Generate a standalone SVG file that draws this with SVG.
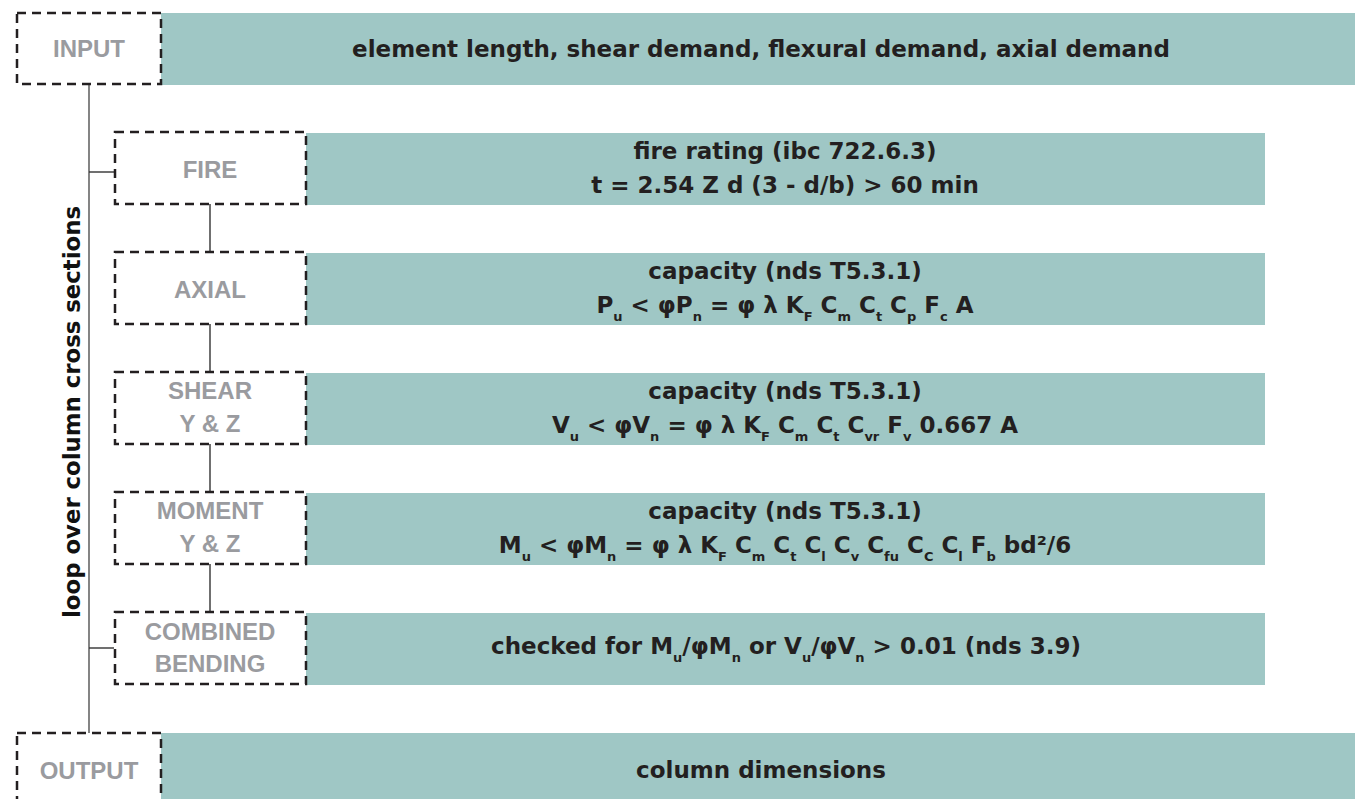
<svg xmlns="http://www.w3.org/2000/svg" width="1355" height="799" viewBox="0 0 1355 799">
  <style>
    .bar { fill: #9fc7c5; }
    .frame { fill: #ffffff; stroke: #231f20; stroke-width: 2.5; stroke-dasharray: 9 6; }
    .tag { font-family: "Liberation Sans", Arial, sans-serif; font-weight: bold; font-size: 24px; fill: #9a9b9f; text-anchor: middle; }
    .body { font-family: "DejaVu Sans", "Liberation Sans", sans-serif; font-weight: bold; font-size: 23px; fill: #231f20; text-anchor: middle; }
    .sub { font-size: 13px; }
    .side { font-family: "DejaVu Sans", "Liberation Sans", sans-serif; font-weight: bold; font-size: 22.8px; fill: #111111; text-anchor: middle; }
    .trunk { stroke: #666666; stroke-width: 1.6; fill: none; }
    .link { stroke: #333333; stroke-width: 1.4; fill: none; }
  </style>
  <rect width="1355" height="799" fill="#ffffff"/>

  <!-- connectors -->
  <g id="connectors">
    <line class="trunk" x1="89" y1="85" x2="89" y2="733"/>
    <line class="link" x1="89" y1="172" x2="114" y2="172"/>
    <line class="link" x1="89" y1="648" x2="114" y2="648"/>
    <line class="link" x1="210" y1="204" x2="210" y2="252"/>
    <line class="link" x1="210" y1="324" x2="210" y2="372"/>
    <line class="link" x1="210" y1="444" x2="210" y2="492"/>
    <line class="link" x1="210" y1="564" x2="210" y2="612"/>
  </g>

  <text class="side" transform="translate(80 412) rotate(-90)">loop over column cross sections</text>

  <!-- input -->
  <g id="input">
    <rect class="bar" x="161" y="13" width="1194" height="72"/>
    <rect class="frame" x="17" y="13" width="144" height="71"/>
    <text class="tag" x="89" y="57">INPUT</text>
    <text class="body" x="761" y="57">element length, shear demand, flexural demand, axial demand</text>
  </g>

  <!-- fire -->
  <g id="fire">
    <rect class="bar" x="306" y="133" width="959" height="72"/>
    <rect class="frame" x="115" y="132" width="191" height="72"/>
    <text class="tag" x="210" y="178">FIRE</text>
    <text class="body" x="785" y="159">fire rating (ibc 722.6.3)</text>
    <text class="body" x="785" y="193">t = 2.54 Z d (3 - d/b) &gt; 60 min</text>
  </g>

  <!-- axial -->
  <g id="axial">
    <rect class="bar" x="306" y="253" width="959" height="72"/>
    <rect class="frame" x="115" y="252" width="191" height="72"/>
    <text class="tag" x="210" y="298">AXIAL</text>
    <text class="body" x="785" y="279">capacity (nds T5.3.1)</text>
    <text class="body" x="785" y="313">P<tspan class="sub" dy="8">u</tspan><tspan dy="-8"> &lt; φP</tspan><tspan class="sub" dy="8">n</tspan><tspan dy="-8"> = φ λ K</tspan><tspan class="sub" dy="8">F</tspan><tspan dy="-8"> C</tspan><tspan class="sub" dy="8">m</tspan><tspan dy="-8"> C</tspan><tspan class="sub" dy="8">t</tspan><tspan dy="-8"> C</tspan><tspan class="sub" dy="8">p</tspan><tspan dy="-8"> F</tspan><tspan class="sub" dy="8">c</tspan><tspan dy="-8"> A</tspan></text>
  </g>

  <!-- shear -->
  <g id="shear">
    <rect class="bar" x="306" y="373" width="959" height="72"/>
    <rect class="frame" x="115" y="372" width="191" height="72"/>
    <text class="tag" x="210" y="399">SHEAR</text>
    <text class="tag" x="210" y="432">Y &amp; Z</text>
    <text class="body" x="785" y="399">capacity (nds T5.3.1)</text>
    <text class="body" x="785" y="433">V<tspan class="sub" dy="8">u</tspan><tspan dy="-8"> &lt; φV</tspan><tspan class="sub" dy="8">n</tspan><tspan dy="-8"> = φ λ K</tspan><tspan class="sub" dy="8">F</tspan><tspan dy="-8"> C</tspan><tspan class="sub" dy="8">m</tspan><tspan dy="-8"> C</tspan><tspan class="sub" dy="8">t</tspan><tspan dy="-8"> C</tspan><tspan class="sub" dy="8">vr</tspan><tspan dy="-8"> F</tspan><tspan class="sub" dy="8">v</tspan><tspan dy="-8"> 0.667 A</tspan></text>
  </g>

  <!-- moment -->
  <g id="moment">
    <rect class="bar" x="306" y="493" width="959" height="72"/>
    <rect class="frame" x="115" y="492" width="191" height="72"/>
    <text class="tag" x="210" y="519">MOMENT</text>
    <text class="tag" x="210" y="552">Y &amp; Z</text>
    <text class="body" x="785" y="519">capacity (nds T5.3.1)</text>
    <text class="body" x="785" y="553">M<tspan class="sub" dy="8">u</tspan><tspan dy="-8"> &lt; φM</tspan><tspan class="sub" dy="8">n</tspan><tspan dy="-8"> = φ λ K</tspan><tspan class="sub" dy="8">F</tspan><tspan dy="-8"> C</tspan><tspan class="sub" dy="8">m</tspan><tspan dy="-8"> C</tspan><tspan class="sub" dy="8">t</tspan><tspan dy="-8"> C</tspan><tspan class="sub" dy="8">l</tspan><tspan dy="-8"> C</tspan><tspan class="sub" dy="8">v</tspan><tspan dy="-8"> C</tspan><tspan class="sub" dy="8">fu</tspan><tspan dy="-8"> C</tspan><tspan class="sub" dy="8">C</tspan><tspan dy="-8"> C</tspan><tspan class="sub" dy="8">l</tspan><tspan dy="-8"> F</tspan><tspan class="sub" dy="8">b</tspan><tspan dy="-8"> bd²/6</tspan></text>
  </g>

  <!-- combined bending -->
  <g id="combined">
    <rect class="bar" x="306" y="613" width="959" height="72"/>
    <rect class="frame" x="115" y="612" width="191" height="72"/>
    <text class="tag" x="210" y="640">COMBINED</text>
    <text class="tag" x="210" y="672">BENDING</text>
    <text class="body" x="786" y="654">checked for M<tspan class="sub" dy="8">u</tspan><tspan dy="-8">/φM</tspan><tspan class="sub" dy="8">n</tspan><tspan dy="-8"> or V</tspan><tspan class="sub" dy="8">u</tspan><tspan dy="-8">/φV</tspan><tspan class="sub" dy="8">n</tspan><tspan dy="-8"> &gt; 0.01 (nds 3.9)</tspan></text>
  </g>

  <!-- output -->
  <g id="output">
    <rect class="bar" x="161" y="733" width="1194" height="66"/>
    <rect class="frame" x="17" y="733" width="144" height="72"/>
    <text class="tag" x="89" y="779">OUTPUT</text>
    <text class="body" x="761" y="778">column dimensions</text>
  </g>
</svg>
